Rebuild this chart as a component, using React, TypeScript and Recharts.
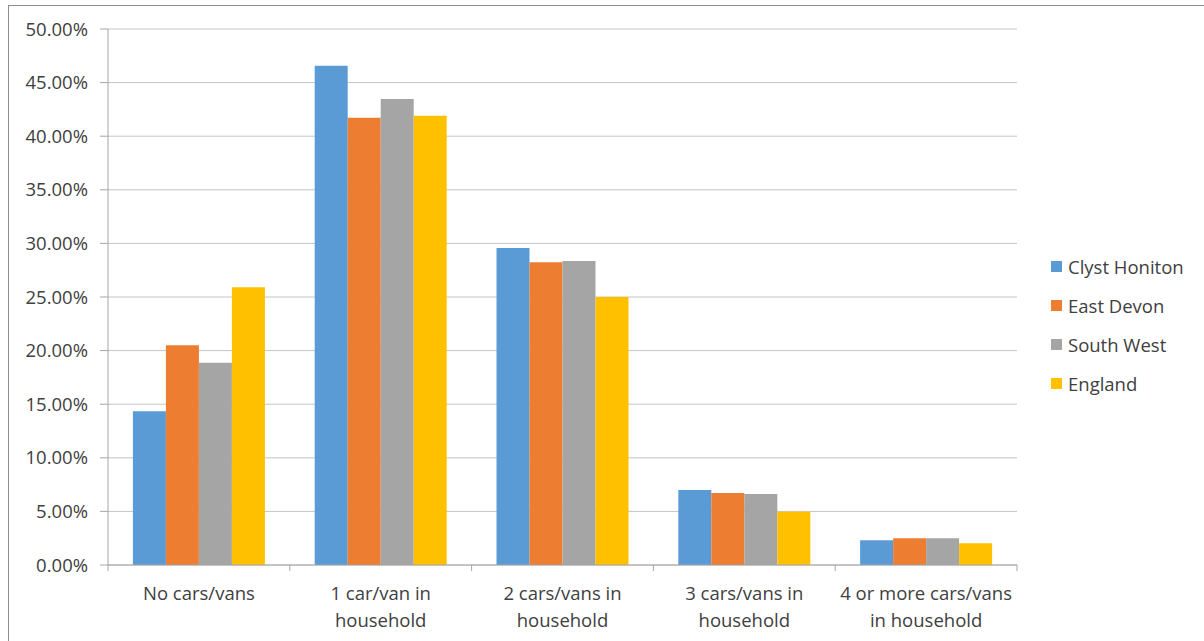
import React from 'react';
import { BarChart, Bar, XAxis, YAxis, CartesianGrid, Legend } from 'recharts';

// Household car/van availability, share of households (%)
const categories = [
  'No cars/vans',
  '1 car/van in\nhousehold',
  '2 cars/vans in\nhousehold',
  '3 cars/vans in\nhousehold',
  '4 or more cars/vans\nin household',
];
const clystHoniton = [14.34, 46.58, 29.57, 7.0, 2.3];
const eastDevon = [20.49, 41.73, 28.23, 6.72, 2.49];
const southWest = [18.87, 43.47, 28.36, 6.62, 2.49];
const england = [25.9, 41.91, 25.0, 4.97, 2.02];
const yTicks = [0, 5, 10, 15, 20, 25, 30, 35, 40, 45, 50];

const seriesNames = ['Clyst Honiton', 'East Devon', 'South West', 'England'];
const seriesColors = ['#5B9BD5', '#ED7D31', '#A5A5A5', '#FFC000'];
const seriesValues = [clystHoniton, eastDevon, southWest, england];

const data = categories.map((name, i) => {
  const row: Record<string, string | number> = { name };
  seriesNames.forEach((s, k) => {
    row[s] = seriesValues[k][i];
  });
  return row;
});

const FONT = '"Open Sans", "Liberation Sans", sans-serif';
const TEXT = '#404040';
const AXIS = '#a6a6a6';
const LEGEND_W = 150;

function CategoryTick(props: any) {
  const { x, y, payload, index, visibleTicksCount } = props;
  const half = payload && payload.offset ? payload.offset : 90.9;
  const lines = String(payload.value).split('\n');
  const isLast = index === (visibleTicksCount ?? categories.length) - 1;
  return (
    <g>
      <line x1={x - half} x2={x - half} y1={y - 6} y2={y} stroke={AXIS} strokeWidth={1} />
      {isLast && (
        <line x1={x + half} x2={x + half} y1={y - 6} y2={y} stroke={AXIS} strokeWidth={1} />
      )}
      <text x={x} y={y} textAnchor="middle" fill={TEXT} fontSize={18.5} fontFamily={FONT}>
        {lines.map((ln, i) => (
          <tspan key={i} x={x} dy={i === 0 ? 29 : 27}>
            {ln}
          </tspan>
        ))}
      </text>
    </g>
  );
}

// Legend items keep the series order rather than alphabetical order
function LegendBox() {
  return (
    <div style={{ fontFamily: FONT, fontSize: 18.5, color: TEXT }}>
      {seriesNames.map((name, k) => (
        <div key={name} style={{ display: 'flex', alignItems: 'center', height: 39 }}>
          <span
            style={{
              display: 'inline-block',
              width: 11,
              height: 11,
              background: seriesColors[k],
              marginRight: 6,
            }}
          />
          <span>{name}</span>
        </div>
      ))}
    </div>
  );
}

export default function App() {
  return (
    <div
      style={{
        position: 'absolute',
        left: 0,
        top: 0,
        width: 1204,
        height: 641,
        overflow: 'hidden',
        background: '#ffffff',
      }}
    >
      <div
        style={{
          position: 'absolute',
          left: 8,
          top: 5,
          width: 1220,
          height: 660,
          borderLeft: '1px solid #8c8c8c',
          borderTop: '1px solid #8c8c8c',
        }}
      />
      <div style={{ position: 'absolute', left: 0, top: 0 }}>
        <BarChart
          width={1204}
          height={641}
          data={data}
          margin={{ top: 29, right: 187 - LEGEND_W, bottom: 0, left: 0 }}
          barCategoryGap="13.7%"
          barGap={0}
        >
          <CartesianGrid vertical={false} stroke="#c4c4c4" strokeWidth={1} />
          <XAxis
            dataKey="name"
            height={76}
            axisLine={{ stroke: AXIS }}
            tickLine={false}
            tickSize={6}
            tickMargin={0}
            interval={0}
            tick={<CategoryTick />}
          />
          <YAxis
            width={108}
            domain={[0, 50]}
            ticks={yTicks}
            interval={0}
            tickFormatter={(v: number) => `${v.toFixed(2)}%`}
            axisLine={{ stroke: AXIS }}
            tickLine={{ stroke: AXIS }}
            tickSize={8}
            tickMargin={12}
            tick={{ fill: TEXT, fontSize: 18.5, fontFamily: FONT }}
          />
          <Legend
            layout="vertical"
            verticalAlign="top"
            align="right"
            content={<LegendBox />}
            wrapperStyle={{ position: 'absolute', left: 1051, top: 247, width: LEGEND_W }}
          />
          {seriesNames.map((s, k) => (
            <Bar key={s} dataKey={s} fill={seriesColors[k]} isAnimationActive={false} />
          ))}
        </BarChart>
      </div>
    </div>
  );
}
